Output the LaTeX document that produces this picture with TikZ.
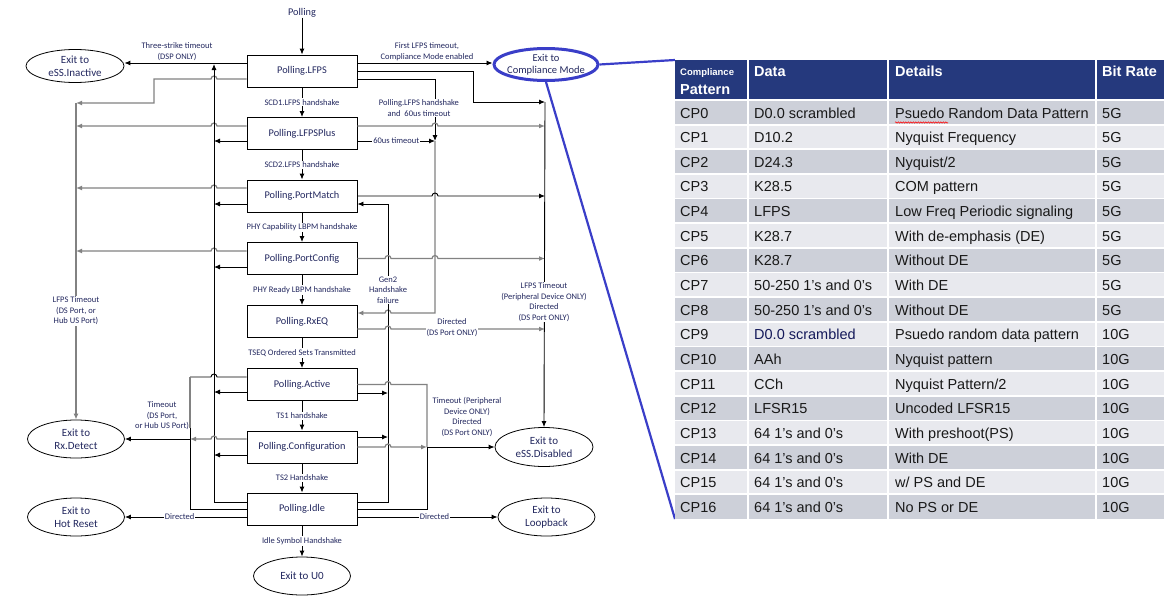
\documentclass[tikz,border=0pt]{standalone}
\usepackage{fontspec}
\setmainfont{Carlito}
\newfontfamily\arialf{Liberation Sans}
\usetikzlibrary{shapes.geometric,arrows.meta,calc,decorations.pathmorphing}
\definecolor{dtext}{RGB}{35,40,95}
\definecolor{cblue}{RGB}{58,62,200}
\definecolor{hdr}{RGB}{37,57,125}
\definecolor{rowA}{RGB}{205,208,217}
\definecolor{rowB}{RGB}{232,233,238}
\definecolor{glin}{RGB}{130,130,130}
\definecolor{ttext}{RGB}{25,25,25}
\definecolor{navytxt}{RGB}{20,25,90}
\newcommand{\tabrow}[6]{%
  \pgfmathsetmacro{\yt}{-100-#1*24.647}%
  \pgfmathsetmacro{\yb}{\yt-24.647}%
  \pgfmathsetmacro{\ybase}{\yt-18}%
  \fill[#2] (675,\yt) rectangle (1164,\yb);
  \node[tt] (r#1a) at (680,\ybase) {#3};
  \node[tt] (r#1b) at (754,\ybase) {#4};
  \node[tt] (r#1c) at (895,\ybase) {#5};
  \node[tt] (r#1d) at (1102,\ybase) {#6};
}
\begin{document}
\begin{tikzpicture}[x=1pt,y=1pt,
 box/.style={draw, line width=0.9pt, minimum width=110pt, minimum height=32pt, inner sep=0pt, fill=white, text=dtext, font=\fontsize{10.3}{12}\selectfont},
 ell/.style={draw, ellipse, line width=0.8pt, inner sep=0pt, fill=white},
 elltext/.style={text=dtext, align=center, font=\fontsize{11}{13}\selectfont, inner sep=0pt},
 lab/.style={text=dtext, align=center, font=\fontsize{8.5}{10.5}\selectfont, fill=white, inner sep=1pt},
 labn/.style={text=dtext, align=center, font=\fontsize{8.5}{10.5}\selectfont, inner sep=0pt},
 bl/.style={line width=0.9pt, black},
 gl/.style={line width=1.2pt, glin},
 arr/.style={-{Latex[length=6pt,width=5pt]}},
 tt/.style={anchor=base west, inner sep=0pt, text=ttext, font=\arialf\fontsize{14.5}{17}\selectfont},
 th/.style={anchor=base west, inner sep=0pt, text=white, font=\arialf\bfseries\fontsize{14.5}{17}\selectfont},
]
\useasboundingbox (0,0) rectangle (1175,-605);
\fill[white] (0,0) rectangle (1175,-605);

% ---------------- state boxes ----------------
\node[box] (lfps) at (302,-71) {Polling.LFPS};
\node[box] (plus) at (302,-133.5) {Polling.LFPSPlus};
\node[box] (pm)   at (302,-196) {Polling.PortMatch};
\node[box] (pc)   at (302,-258.5) {Polling.PortConfig};
\node[box] (rx)   at (302,-321.5) {Polling.RxEQ};
\node[box] (act)  at (302,-384.5) {Polling.Active};
\node[box] (cfg)  at (302,-447) {Polling.Configuration};
\node[box] (idle) at (302,-509) {Polling.Idle};

% ---------------- exit ellipses ----------------
\node[ell, minimum width=98pt, minimum height=33pt] (inactive) at (75,-66) {};
\node[elltext] (inactiveT) at (inactive) {Exit to\\eSS.Inactive};
\node[ell, minimum width=97pt, minimum height=38pt] (rxdetect) at (76,-439) {};
\node[elltext] (rxdetectT) at (rxdetect) {Exit to\\Rx.Detect};
\node[ell, minimum width=97pt, minimum height=38pt] (hotreset) at (76,-517) {};
\node[elltext] (hotresetT) at (hotreset) {Exit to\\Hot Reset};
\node[ell, minimum width=97pt, minimum height=38pt] (u0) at (302,-576) {};
\node[elltext] (u0T) at (u0) {Exit to U0};
\node[ell, minimum width=98pt, minimum height=39pt] (disabled) at (544,-447) {};
\node[elltext] (disabledT) at (disabled) {Exit to\\eSS.Disabled};
\node[ell, minimum width=97pt, minimum height=38pt] (loopback) at (546.5,-517) {};
\node[elltext] (loopbackT) at (loopback) {Exit to\\Loopback};
\node[ell, draw=cblue, line width=3pt, minimum width=104pt, minimum height=32pt] (compliance) at (546,-64.5) {};
\node[elltext, font=\fontsize{10.5}{12.5}\selectfont] (complianceT) at (compliance) {Exit to\\Compliance Mode};

% ---------------- main chain ----------------
\node[text=dtext, inner sep=0pt, font=\fontsize{10.3}{12}\selectfont] (polling) at (302,-13) {Polling};
\draw[bl,arr] (polling.south) -- (lfps.north);
\draw[bl,arr] (lfps.south) -- node[lab]{SCD1.LFPS handshake} (plus.north);
\draw[bl,arr] (plus.south) -- node[lab]{SCD2.LFPS handshake} (pm.north);
\draw[bl,arr] (pm.south) -- node[lab]{PHY Capability LBPM handshake} (pc.north);
\draw[bl,arr] (pc.south) -- node[lab]{PHY Ready LBPM handshake} (rx.north);
\draw[bl,arr] (rx.south) -- node[lab]{TSEQ Ordered Sets Transmitted} (act.north);
\draw[bl,arr] (act.south) -- node[lab]{TS1 handshake} (cfg.north);
\draw[bl,arr] (cfg.south) -- node[lab]{TS2 Handshake} (idle.north);
\draw[bl,arr] (idle.south) -- node[lab]{Idle Symbol Handshake} (u0.north);

% ---------------- left side ----------------
\coordinate (busAtop) at (76,-103);
\draw[bl,arr] ($(lfps.west)+(0,8)$) -- ($(inactive.east)+(0,3)$);
\draw[gl,arr] ($(lfps.west)+(0,-8)$) -- (217,-79) arc[start angle=0,end angle=180,radius=3] -- (154,-79) -- (154,-103) -- (busAtop);
\draw[gl,arr] ($(plus.west)+(0,7.5)$) -- (217,-126) arc[start angle=0,end angle=180,radius=3] -- (76,-126);
\draw[gl,arr] ($(pm.west)+(0,8)$) -- (217,-188) arc[start angle=0,end angle=180,radius=3] -- (76,-188);
\draw[gl,arr] ($(pc.west)+(0,7.5)$) -- (217,-251) arc[start angle=0,end angle=180,radius=3] -- (76,-251);
\draw[gl,arr] (busAtop) -- (rxdetect.north);

% bus C (x=214) from Idle up to three-strike line
\draw[bl,arr] ($(idle.west)+(0,7)$) -- (214,-502) -- (214,-64);
\draw[bl,arr] ($(plus.west)+(0,-7.5)$) -- (214,-141);
\draw[bl,arr] ($(pm.west)+(0,-8)$) -- (214,-204);
\draw[bl,arr] ($(pc.west)+(0,-8.5)$) -- (214,-267);
\draw[bl,arr] ($(act.west)+(0,-7.5)$) -- (214,-392);
\draw[bl,arr] ($(cfg.west)+(0,-8)$) -- (214,-455);

% bus B (x=190) to Rx.Detect
\coordinate (busBj) at (190,-439);
\draw[bl] ($(act.west)+(0,7.5)$) -- (217,-377) arc[start angle=0,end angle=180,radius=3] -- (190,-377);
\draw[gl] (190,-377) -- (190,-428);
\draw[bl] (190,-428) -- (busBj);
\draw[bl] (idle.west) -- (190,-509) -- (busBj);
\draw[gl,arr] ($(cfg.west)+(0,8)$) -- (217,-439) arc[start angle=0,end angle=180,radius=3] -- (busBj);
\draw[bl,arr] (busBj) -- (rxdetect.east);

\draw[bl,arr] ($(idle.west)+(0,-8)$) -- node[lab,pos=0.55]{Directed} (hotreset.east);

% ---------------- right side ----------------
\coordinate (busGtop) at (545,-102);
\draw[bl,arr] ($(lfps.east)+(0,8)$) -- ($(compliance.west)+(0,1.5)$);
\draw[bl,arr] (lfps.east) -- (473,-71) -- (473,-102) -- (busGtop);
\draw[bl,arr] ($(lfps.east)+(0,-8)$) -- (435,-79) -- (435,-141);
\draw[gl,arr] ($(plus.east)+(0,7.5)$) -- (432,-126) arc[start angle=180,end angle=0,radius=3] -- (545,-126);
\draw[bl,arr] ($(plus.east)+(0,-7.5)$) -- node[lab]{60us timeout} (435,-141);
\draw[gl,arr] (435,-141) -- (435,-313) -- (391,-313) arc[start angle=0,end angle=180,radius=3] -- ($(rx.east)+(0,8.5)$);
\draw[bl,arr] (pm.east) -- (432,-196) arc[start angle=180,end angle=0,radius=3] -- (545,-196);

% Gen2 bus D (x=388)
\draw[bl,arr] ($(idle.east)+(0,7)$) -- (388,-502) -- (388,-204) -- ($(pm.east)+(0,-8)$);
\draw[bl,arr] ($(act.east)+(0,-8.5)$) -- (388,-393);
\draw[bl,arr] ($(cfg.east)+(0,10)$) -- (388,-437);

\draw[gl,arr] (pc.east) -- (385,-258.5) arc[start angle=180,end angle=0,radius=3] -- (432,-258.5) arc[start angle=180,end angle=0,radius=3] -- (545,-258.5);
\draw[gl,arr] ($(rx.east)+(0,-7.5)$) -- (385,-329) arc[start angle=180,end angle=0,radius=3] -- (545,-329);

% bus G (x=545)
\draw[bl,arr] (busGtop) -- (disabled.north);

% bus E (x=427)
\coordinate (busEj) at (427,-447);
\draw[gl] (act.east) -- (385,-384.5) arc[start angle=180,end angle=0,radius=3] -- (427,-384.5) -- (busEj);
\draw[bl] (idle.east) -- (427,-509) -- (busEj);
\draw[gl,arr] (cfg.east) -- (385,-447) arc[start angle=180,end angle=0,radius=3] -- (busEj);
\draw[bl,arr] (busEj) -- (disabled.west);

\draw[bl,arr] ($(idle.east)+(0,-8)$) -- node[lab,pos=0.55]{Directed} (loopback.west);

% ---------------- labels ----------------
\node[labn] (l3s) at (177,-51.5) {Three-strike timeout\\(DSP ONLY)};
\node[labn] (lfirst) at (427,-51.5) {First LFPS timeout,\\Compliance Mode enabled};
\node[lab] (lhs60) at (419,-108) {Polling.LFPS handshake\\and~~60us timeout};
\node[lab] (llfpsA) at (76,-311) {LFPS Timeout\\(DS Port, or\\Hub US Port)};
\node[labn] (ltoA) at (162,-416) {Timeout\\(DS Port,\\or Hub US Port)};
\node[lab] (lgen2) at (388,-290) {Gen2\\Handshake\\failure};
\node[lab] (ldir) at (452,-327.5) {Directed\\(DS Port ONLY)};
\node[lab] (llfpsG) at (544,-302) {LFPS Timeout\\(Peripheral Device ONLY)\\Directed\\(DS Port ONLY)};
\node[labn] (ltoE) at (467,-417) {Timeout (Peripheral\\Device ONLY)\\Directed\\(DS Port ONLY)};

% ---------------- table ----------------
\coordinate (tabTL) at (675,-60);
\coordinate (tabBL) at (675,-519);
\draw[cblue, line width=2.2pt] (compliance.east) -- (tabTL);
\draw[cblue, line width=2.2pt] (compliance.south) -- (tabBL);

\fill[hdr] (675,-60) rectangle (1164,-100);
\tabrow{0}{rowA}{CP0}{D0.0 scrambled}{Psuedo Random Data Pattern}{5G}
\tabrow{1}{rowB}{CP1}{D10.2}{Nyquist Frequency}{5G}
\tabrow{2}{rowA}{CP2}{D24.3}{Nyquist/2}{5G}
\tabrow{3}{rowB}{CP3}{K28.5}{COM pattern}{5G}
\tabrow{4}{rowA}{CP4}{LFPS}{Low Freq Periodic signaling}{5G}
\tabrow{5}{rowB}{CP5}{K28.7}{With de-emphasis (DE)}{5G}
\tabrow{6}{rowA}{CP6}{K28.7}{Without DE}{5G}
\tabrow{7}{rowB}{CP7}{50-250 1’s and 0’s}{With DE}{5G}
\tabrow{8}{rowA}{CP8}{50-250 1’s and 0’s}{Without DE}{5G}
\tabrow{9}{rowB}{CP9}{\textcolor{navytxt}{D0.0 scrambled}}{Psuedo random data pattern}{10G}
\tabrow{10}{rowA}{CP10}{AAh}{Nyquist pattern}{10G}
\tabrow{11}{rowB}{CP11}{CCh}{Nyquist Pattern/2}{10G}
\tabrow{12}{rowA}{CP12}{LFSR15}{Uncoded LFSR15}{10G}
\tabrow{13}{rowB}{CP13}{64 1’s and 0’s}{With preshoot(PS)}{10G}
\tabrow{14}{rowA}{CP14}{64 1’s and 0’s}{With DE}{10G}
\tabrow{15}{rowB}{CP15}{64 1’s and 0’s}{w/ PS and DE}{10G}
\tabrow{16}{rowA}{CP16}{64 1’s and 0’s}{No PS or DE}{10G}

\foreach \xx in {748,888,1096} \draw[white, line width=2pt] (\xx,-60) -- (\xx,-519);
\foreach \ii in {0,...,16} \draw[white, line width=1.8pt] (675,-100-\ii*24.647) -- (1164,-100-\ii*24.647);

\node[anchor=base west, inner sep=0pt, text=white, font=\arialf\bfseries\fontsize{9.5}{11}\selectfont] (hcomp) at (680,-75.5) {Compliance};
\node[th] (hpat) at (680,-94) {Pattern};
\node[th] (hdata) at (754,-76) {Data};
\node[th] (hdet) at (895,-76) {Details};
\node[th] (hrate) at (1102,-76) {Bit Rate};

\draw[red, line width=0.5pt, decorate, decoration={snake, amplitude=0.7pt, segment length=2.5pt}] (895,-122.5) -- (948,-122.5);
\end{tikzpicture}
\end{document}
